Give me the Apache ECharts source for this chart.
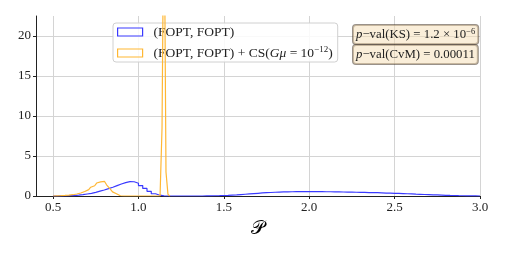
<!DOCTYPE html>
<html>
<head>
<meta charset="utf-8">
<script src="https://cdn.jsdelivr.net/npm/echarts@6/dist/echarts.min.js"></script>
<style>html,body{margin:0;padding:0;background:#fff}#c{width:506px;height:253px}</style>
</head>
<body>
<div id="c"></div>
<script>
// Blue histogram: (FOPT, FOPT)
const blueStart = 0.5;
const blueWidth = 0.025;
const blueHeights = [
  0.0, 0.01, 0.02, 0.04, 0.05, 0.1, 0.17, 0.25, 0.33, 0.45, 0.6, 0.75, 0.92,
  1.1, 1.3, 1.5, 1.68, 1.8, 1.78, 1.6, 1.3, 0.95, 0.58, 0.28, 0.1, 0.02,
  0, 0, 0, 0, 0, 0, 0, 0, 0,
  0.01, 0.02, 0.03, 0.04, 0.06, 0.08, 0.11, 0.14, 0.18, 0.22, 0.26, 0.3, 0.34,
  0.38, 0.41, 0.44, 0.47, 0.49, 0.51, 0.52, 0.53, 0.54, 0.55, 0.55, 0.55, 0.55,
  0.54, 0.54, 0.53, 0.53, 0.52, 0.51, 0.5, 0.49, 0.48, 0.47, 0.46, 0.45, 0.43,
  0.42, 0.41, 0.39, 0.37, 0.36, 0.34, 0.32, 0.3, 0.28, 0.26, 0.23, 0.21, 0.19,
  0.17, 0.15, 0.13, 0.11, 0.09, 0.07, 0.06, 0.04, 0.03, 0.02, 0.01, 0.01, 0.0
];
// Orange histogram: (FOPT, FOPT) + CS(Gmu = 1e-12)
const orangeStart = 0.5;
const orangeWidth = 0.0116;
const orangeHeights = [
  0.01, 0.02, 0.03, 0.04, 0.05, 0.07, 0.09, 0.11, 0.12, 0.16, 0.2, 0.25, 0.3,
  0.38, 0.48, 0.57, 0.68, 0.8, 0.93, 1.1, 1.28, 1.45, 1.62, 1.76, 1.85, 1.82,
  1.65, 1.4, 1.12, 0.82, 0.52, 0.28, 0.12, 0.03, 0,
  0, 0, 0, 0, 0, 0, 0, 0, 0, 0, 0, 0, 0, 0, 0, 0, 0, 0, 0, 0,
  8.5, 40, 3.0, 0.2
];
const seriesNames = ['(FOPT, FOPT)', '(FOPT, FOPT) + CS(Gμ = 10⁻¹²)'];
const xTicks = [0.5, 1.0, 1.5, 2.0, 2.5, 3.0];
const yTicks = [0, 5, 10, 15, 20];
const annotations = ['p−val(KS) = 1.2 × 10⁻⁶', 'p−val(CvM) = 0.00011'];

function stepOutline(start, width, heights) {
  const pts = [[start, 0]];
  heights.forEach((h, i) => {
    pts.push([start + i * width, h]);
    pts.push([start + (i + 1) * width, h]);
  });
  pts.push([start + heights.length * width, 0]);
  return pts;
}

const serif = 'Liberation Serif';
const blue = '#3a3aff';
const orange = '#ffb733';
const chart = echarts.init(document.getElementById('c'), null, {renderer: 'canvas'});
const boxRich = {
  t: {fontFamily: serif, fontSize: 12.8, fill: '#222', lineHeight: 15},
  i: {fontFamily: serif, fontSize: 12.8, fontStyle: 'italic', fill: '#222', lineHeight: 15},
  s: {fontFamily: serif, fontSize: 8.5, fill: '#222', verticalAlign: 'top', lineHeight: 9}
};
chart.setOption({
  animation: false,
  backgroundColor: '#fff',
  grid: {left: 36, right: 26, top: 16, bottom: 57, containLabel: false},
  xAxis: {
    type: 'value', min: 0.4, max: 3.0,
    name: '𝒫', nameLocation: 'middle', nameGap: 24,
    nameTextStyle: {fontFamily: 'DejaVu Sans', fontSize: 19, color: '#000'},
    axisLine: {show: true, onZero: false, lineStyle: {color: '#222', width: 1}},
    axisTick: {show: true, length: 3, lineStyle: {color: '#222'}, customValues: xTicks},
    axisLabel: {customValues: xTicks, fontFamily: serif, fontSize: 13, color: '#222', margin: 5,
      formatter: v => v.toFixed(1)},
    splitLine: {show: true, lineStyle: {color: '#d4d4d4', width: 1}}
  },
  yAxis: {
    type: 'value', min: 0, max: 22.5, interval: 5,
    axisLine: {show: true, lineStyle: {color: '#222', width: 1}},
    axisTick: {show: true, length: 3, lineStyle: {color: '#222'}, customValues: yTicks},
    axisLabel: {customValues: yTicks, fontFamily: serif, fontSize: 13, color: '#222', margin: 5},
    splitLine: {show: true, lineStyle: {color: '#d4d4d4', width: 1}}
  },
  legend: {
    orient: 'vertical', left: 113, top: 23,
    itemWidth: 25, itemHeight: 8, itemGap: 6,
    padding: [2, 5, 2, 4],
    backgroundColor: 'rgba(255,255,255,0.85)',
    borderColor: '#d0d0d0', borderWidth: 1, borderRadius: 3,
    icon: 'rect',
    data: [
      {name: seriesNames[0], itemStyle: {color: 'rgba(0,0,0,0)', borderColor: blue, borderWidth: 1.2}},
      {name: seriesNames[1], itemStyle: {color: 'rgba(0,0,0,0)', borderColor: orange, borderWidth: 1.2}}
    ],
    formatter: function (name) {
      if (name === seriesNames[0]) return '{t|(FOPT, FOPT)}';
      return '{t|(FOPT, FOPT) + CS(}{i|G}{i|μ}{t| = 10}{s|−12}{t|)}';
    },
    textStyle: {
      fontFamily: serif, fontSize: 13.5, color: '#222', padding: [0, 0, 0, 6],
      rich: {
        t: {fontFamily: serif, fontSize: 13.5, color: '#222', lineHeight: 16},
        i: {fontFamily: serif, fontSize: 13.5, fontStyle: 'italic', color: '#222', lineHeight: 16},
        s: {fontFamily: serif, fontSize: 9, color: '#222', verticalAlign: 'top', lineHeight: 9}
      }
    }
  },
  graphic: [
    {
      type: 'text', left: 352, top: 24, z: 100,
      style: {
        text: '{i|p}{t|−val(KS) = 1.2 × 10}{s|−6}',
        backgroundColor: 'rgba(245,222,179,0.5)', borderColor: 'rgba(70,55,40,0.55)', borderWidth: 1, borderRadius: 3,
        padding: [2, 3, 2, 3],
        rich: boxRich
      }
    },
    {
      type: 'text', left: 352, top: 44, z: 100,
      style: {
        text: '{i|p}{t|−val(CvM) = 0.00011}',
        backgroundColor: 'rgba(245,222,179,0.5)', borderColor: 'rgba(70,55,40,0.55)', borderWidth: 1, borderRadius: 3,
        padding: [2, 3, 2, 3],
        rich: boxRich
      }
    }
  ],
  series: [
    {
      name: seriesNames[0], type: 'line', showSymbol: false, symbol: 'none', clip: true,
      data: stepOutline(blueStart, blueWidth, blueHeights),
      lineStyle: {color: blue, width: 1.2},
      itemStyle: {color: blue}, z: 3
    },
    {
      name: seriesNames[1], type: 'line', showSymbol: false, symbol: 'none', clip: true,
      data: stepOutline(orangeStart, orangeWidth, orangeHeights),
      lineStyle: {color: orange, width: 1.2},
      itemStyle: {color: orange}, z: 4
    }
  ]
});
</script>
</body>
</html>
